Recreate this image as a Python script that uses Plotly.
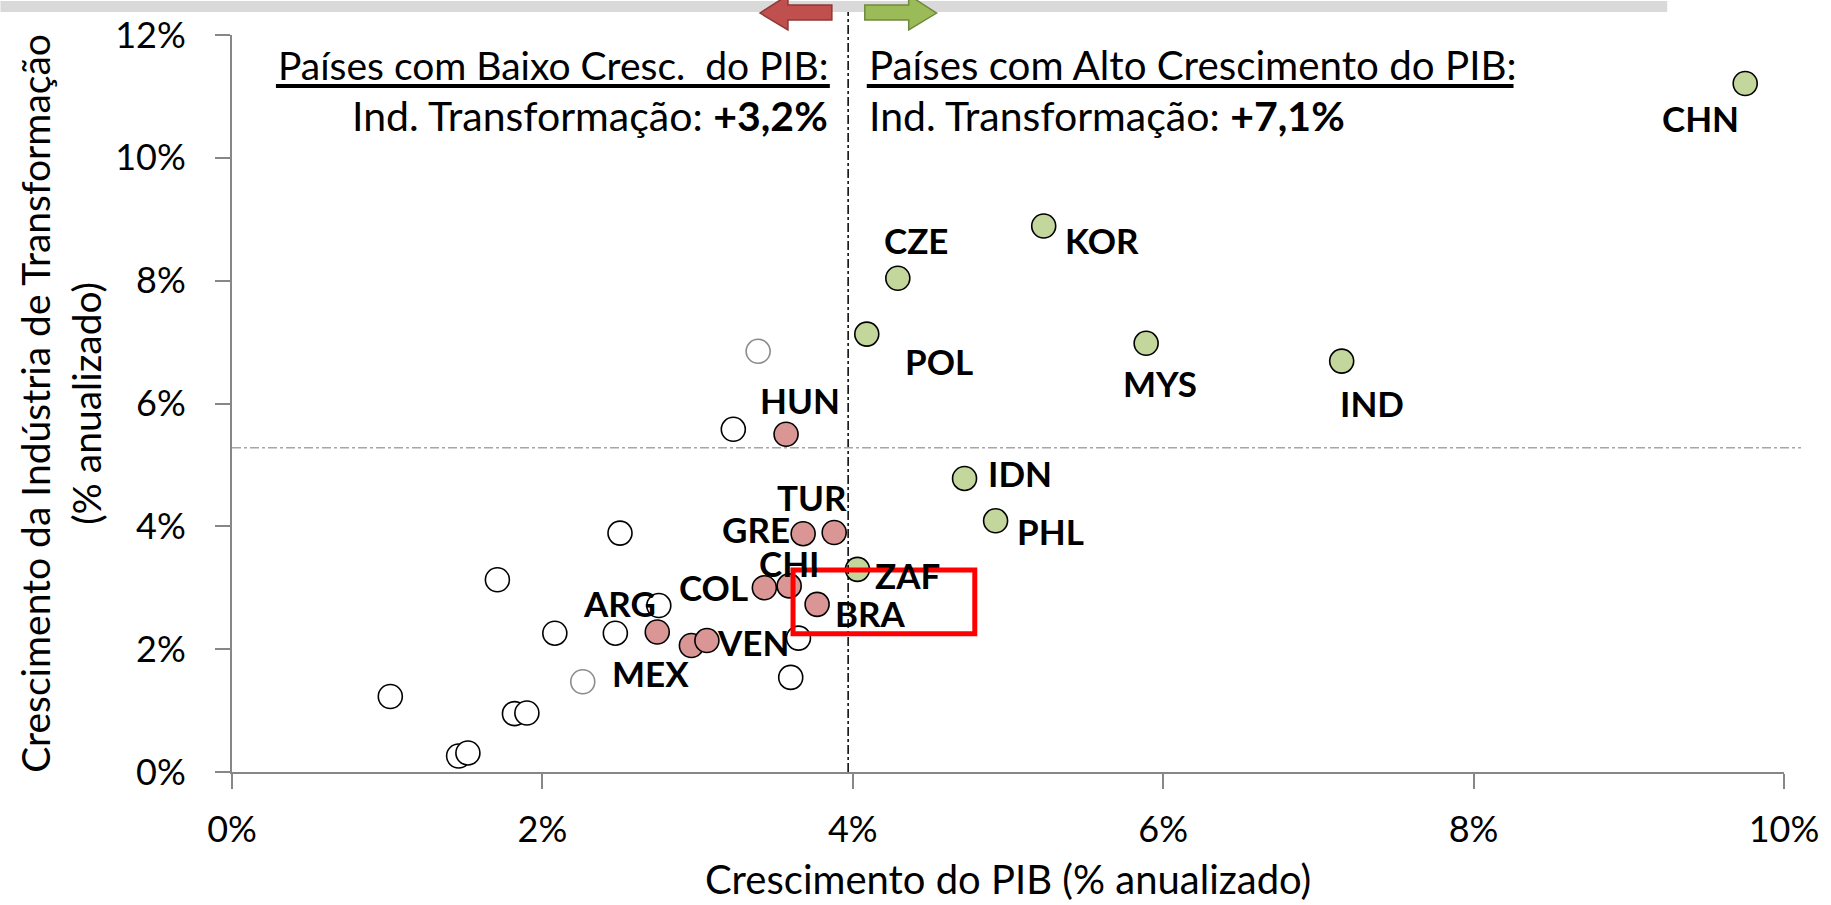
"""
Crescimento do PIB x crescimento da indústria de transformação (% a.a.),
países com baixo crescimento (vermelho) e alto crescimento (verde).
"""
import plotly.graph_objects as go

# Países com alto crescimento do PIB (verde)
HIGH_CODES = ["CHN", "KOR", "CZE", "POL", "MYS", "IND", "IDN", "PHL", "ZAF"]
HIGH_GDP = [9.75, 5.23, 4.29, 4.09, 5.89, 7.15, 4.72, 4.92, 4.03]
HIGH_IND = [11.21, 8.89, 8.04, 7.13, 6.98, 6.69, 4.78, 4.09, 3.30]

# Países com baixo crescimento do PIB (vermelho)
LOW_CODES = ["HUN", "TUR", "GRE", "CHI", "COL", "BRA", "ARG", "MEX", "VEN"]
LOW_GDP = [3.57, 3.88, 3.68, 3.59, 3.43, 3.77, 2.74, 2.96, 3.06]
LOW_IND = [5.50, 3.90, 3.88, 3.03, 3.00, 2.73, 2.28, 2.06, 2.14]

# Demais países (sem destaque)
OTHER_GDP = [3.23, 2.50, 1.71, 2.75, 2.08, 2.47, 3.65, 3.60, 1.02, 1.82, 1.90, 1.46, 1.52]
OTHER_IND = [5.58, 3.89, 3.13, 2.71, 2.26, 2.26, 2.18, 1.54, 1.23, 0.95, 0.96, 0.26, 0.31]
GRAY_GDP = [3.39, 2.26]
GRAY_IND = [6.85, 1.47]

GDP_THRESHOLD = 3.97   # linha vertical
IND_AVERAGE = 5.28     # linha horizontal

LOW_HEADER = "Países com Baixo Cresc.\u00a0 do PIB:"
HIGH_HEADER = "Países com Alto Crescimento do PIB:"
LOW_AVG = "+3,2%"
HIGH_AVG = "+7,1%"

X_TICKS = [0, 2, 4, 6, 8, 10]
Y_TICKS = [0, 2, 4, 6, 8, 10, 12]

# Label offsets in px (dx right, dy up) relative to each marker
LABEL_SHIFT = {
    "CHN": (-45, -34), "KOR": (58, -14), "CZE": (18, 38), "POL": (72, -27),
    "MYS": (14, -40), "IND": (30, -42), "IDN": (55, 5), "PHL": (55, -10),
    "ZAF": (50, -6), "BRA": (53, -9), "HUN": (14, 34), "TUR": (-22, 35),
    "GRE": (-47, 5), "CHI": (0, 23), "COL": (-51, 1), "ARG": (-38, 29),
    "VEN": (46, -1), "MEX": (-41, -28),
}

FONT = "Lato, Carlito, Calibri, sans-serif"
W, H = 1831, 905
PL, PT, PW, PH = 232, 34, 1555, 738


def px(x):
    return (x - PL) / PW


def py(y):
    return (PT + PH - y) / PH


def arrow_path(points):
    return "M " + " L ".join(f"{px(x):.5f},{py(y):.5f}" for x, y in points) + " Z"


fig = go.Figure()

fig.add_trace(go.Scatter(
    x=OTHER_GDP, y=OTHER_IND, mode="markers", showlegend=False,
    marker=dict(size=24, color="white", line=dict(color="black", width=1.6)),
))
fig.add_trace(go.Scatter(
    x=GRAY_GDP, y=GRAY_IND, mode="markers", showlegend=False,
    marker=dict(size=24, color="white", line=dict(color="#8C8C8C", width=1.6)),
))
fig.add_trace(go.Scatter(
    x=LOW_GDP, y=LOW_IND, mode="markers", showlegend=False,
    marker=dict(size=24, color="#D99694", line=dict(color="black", width=1.6)),
))
fig.add_trace(go.Scatter(
    x=HIGH_GDP, y=HIGH_IND, mode="markers", showlegend=False,
    marker=dict(size=24, color="#C3D69B", line=dict(color="black", width=1.6)),
))

for codes, xs, ys in [(HIGH_CODES, HIGH_GDP, HIGH_IND), (LOW_CODES, LOW_GDP, LOW_IND)]:
    for code, x, y in zip(codes, xs, ys):
        dx, dy = LABEL_SHIFT[code]
        fig.add_annotation(
            x=x, y=y, text=f"<b>{code}</b>", showarrow=False,
            xshift=dx, yshift=dy, xanchor="center", yanchor="middle",
            font=dict(family=FONT, size=35, color="black"),
        )

# Reference lines
fig.add_shape(type="line", xref="x", yref="paper", x0=GDP_THRESHOLD, x1=GDP_THRESHOLD,
              y0=0, y1=py(10), line=dict(color="black", width=1.5, dash="dashdot"))
fig.add_shape(type="line", xref="paper", yref="y", x0=0, x1=px(1804),
              y0=IND_AVERAGE, y1=IND_AVERAGE, line=dict(color="#A6A6A6", width=1.5, dash="dashdot"))

# Highlight box around BRA
fig.add_shape(type="rect", xref="x", yref="y", x0=3.615, x1=4.786, y0=2.25, y1=3.29,
              line=dict(color="#FF0000", width=5), layer="above")

# Grey band and header arrows
fig.add_shape(type="rect", xref="paper", yref="paper", x0=px(0), x1=px(1670), y0=py(0), y1=py(11),
              fillcolor="#D9D9D9", line=dict(width=0))
fig.add_shape(type="path", xref="paper", yref="paper",
              path=arrow_path([(761, 12), (789, -6), (789, 4), (833, 4), (833, 19), (789, 19), (789, 29)]),
              fillcolor="#C0504D", line=dict(color="#8C3836", width=1.5))
fig.add_shape(type="path", xref="paper", yref="paper",
              path=arrow_path([(938, 12), (910, -6), (910, 4), (866, 4), (866, 19), (910, 19), (910, 29)]),
              fillcolor="#9BBB59", line=dict(color="#71893F", width=1.5))

# Header underlines
fig.add_shape(type="line", xref="paper", yref="paper", x0=px(276), x1=px(831), y0=py(85), y1=py(85),
              line=dict(color="black", width=4))
fig.add_shape(type="line", xref="paper", yref="paper", x0=px(868), x1=px(1516), y0=py(85), y1=py(85),
              line=dict(color="black", width=4))

fig.add_annotation(xref="paper", yref="paper", x=px(831), y=py(64), text=LOW_HEADER,
                   showarrow=False, xanchor="right", yanchor="middle",
                   font=dict(family=FONT, size=39, color="black"))
fig.add_annotation(xref="paper", yref="paper", x=px(831), y=py(115),
                   text=f"Ind. Transformação: <b>{LOW_AVG}</b>",
                   showarrow=False, xanchor="right", yanchor="middle",
                   font=dict(family=FONT, size=41, color="black"))
fig.add_annotation(xref="paper", yref="paper", x=px(868), y=py(64), text=HIGH_HEADER,
                   showarrow=False, xanchor="left", yanchor="middle",
                   font=dict(family=FONT, size=40.3, color="black"))
fig.add_annotation(xref="paper", yref="paper", x=px(868), y=py(115),
                   text=f"Ind. Transformação: <b>{HIGH_AVG}</b>",
                   showarrow=False, xanchor="left", yanchor="middle",
                   font=dict(family=FONT, size=41, color="black"))

# Axis titles
fig.add_annotation(xref="paper", yref="paper", x=0.5, y=py(879),
                   text="Crescimento do PIB (% anualizado)", showarrow=False,
                   xanchor="center", yanchor="middle", font=dict(family=FONT, size=40, color="black"))
fig.add_annotation(xref="paper", yref="paper", x=px(60), y=0.5,
                   text="Crescimento da Indústria de Transformação<br>(% anualizado)",
                   showarrow=False, textangle=-90, xanchor="center", yanchor="middle",
                   font=dict(family=FONT, size=39, color="black"))

axis_common = dict(
    showgrid=False, zeroline=False, showline=True, linecolor="#878787", linewidth=2,
    ticks="outside", ticklen=15, tickwidth=2, tickcolor="#878787",
    tickfont=dict(family=FONT, size=36, color="black"),
)
fig.update_xaxes(range=[0, 10], tickvals=X_TICKS, ticktext=[f"{v}%" for v in X_TICKS],
                 ticklabelstandoff=10, **axis_common)
fig.update_yaxes(range=[0, 12], tickvals=Y_TICKS, ticktext=[f"{v}%" for v in Y_TICKS],
                 ticklabelstandoff=22, **axis_common)

fig.update_layout(
    width=W, height=H,
    margin=dict(l=PL, r=W - PL - PW, t=PT, b=H - PT - PH),
    plot_bgcolor="white", paper_bgcolor="white",
    font=dict(family=FONT, color="black"),
    showlegend=False,
)

fig.write_html("out.html", config={"displayModeBar": False},
               post_script="document.body.style.margin='0';")
